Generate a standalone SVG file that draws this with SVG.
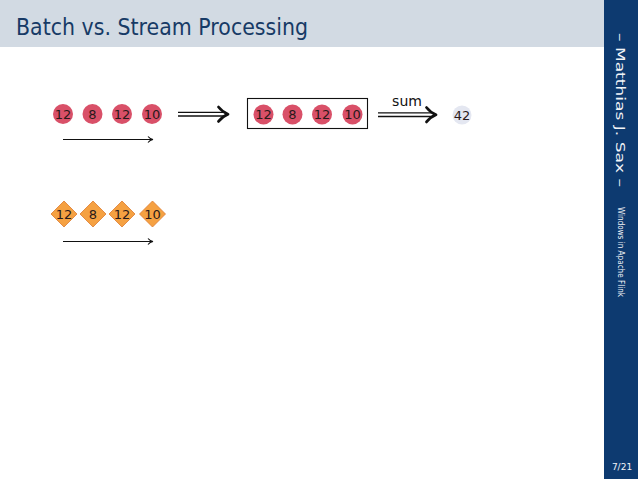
<svg xmlns="http://www.w3.org/2000/svg" width="638" height="479" viewBox="0 0 638 479">
<defs>
<style>
.bg{fill:#ffffff}
.title-bar{fill:#d2dae3}
.side{fill:#0d3a70}
.title{font-family:"DejaVu Sans","Liberation Sans",sans-serif;font-size:23px;fill:#173a66}
.ev{fill:#d95068}
.ev42{fill:#e4e7f1}
.dia{fill:#f5a142;stroke:#dd7a2e;stroke-width:0.8}
.lbl{font-family:"DejaVu Sans","Liberation Sans",sans-serif;font-size:13px;fill:#2a1a1a;text-anchor:middle}
.side-big{font-family:"DejaVu Sans","Liberation Sans",sans-serif;font-size:12.5px;fill:#f2f4f8}
.side-small{font-family:"DejaVu Sans","Liberation Sans",sans-serif;font-size:9px;fill:#f2f4f8}
.thin{stroke:#111;stroke-width:1.1;fill:none}
.dbl{stroke:#111;stroke-width:1.4;fill:none}
.head{stroke:#111;stroke-width:2.8;fill:none;stroke-linecap:round;stroke-linejoin:round}
.box{fill:none;stroke:#111;stroke-width:1.1}
</style>
</defs>
<rect class="bg" x="0" y="0" width="638" height="479"/>
<rect class="title-bar" x="0" y="0" width="604" height="47"/>
<rect class="side" x="604" y="0" width="34" height="479"/>
<text class="title" x="16" y="35" textLength="292" lengthAdjust="spacingAndGlyphs">Batch vs. Stream Processing</text>
<text class="side-big" transform="translate(616,33) rotate(90)" textLength="154" lengthAdjust="spacingAndGlyphs">– Matthias J. Sax –</text>
<text class="side-small" transform="translate(617.5,207) rotate(90)" textLength="90" lengthAdjust="spacingAndGlyphs">Windows in Apache Flink</text>
<text class="side-small" x="622" y="470" text-anchor="middle">7/21</text>

<g id="batch-input">
<circle class="ev" cx="63" cy="114" r="10"/><text class="lbl" x="63" y="118.5">12</text>
<circle class="ev" cx="92.5" cy="114" r="10"/><text class="lbl" x="92.5" y="118.5">8</text>
<circle class="ev" cx="122" cy="114" r="10"/><text class="lbl" x="122" y="118.5">12</text>
<circle class="ev" cx="152" cy="114" r="10"/><text class="lbl" x="152" y="118.5">10</text>
</g>

<g id="batch-box">
<rect class="box" x="247.5" y="98.5" width="120" height="30"/>
<circle class="ev" cx="263.5" cy="114.5" r="10"/><text class="lbl" x="263.5" y="119">12</text>
<circle class="ev" cx="292.5" cy="114.5" r="10"/><text class="lbl" x="292.5" y="119">8</text>
<circle class="ev" cx="322" cy="114.5" r="10"/><text class="lbl" x="322" y="119">12</text>
<circle class="ev" cx="352.5" cy="114.5" r="10"/><text class="lbl" x="352.5" y="119">10</text>
</g>

<g id="result">
<circle class="ev42" cx="462" cy="115" r="9.5"/><text class="lbl" x="462" y="119.5">42</text>
</g>

<g id="stream-input">
<polygon class="dia" points="64,201 77,214 64,227 51,214"/><text class="lbl" x="64" y="218.5">12</text>
<polygon class="dia" points="93,201 106,214 93,227 80,214"/><text class="lbl" x="93" y="218.5">8</text>
<polygon class="dia" points="122,201 135,214 122,227 109,214"/><text class="lbl" x="122" y="218.5">12</text>
<polygon class="dia" points="152.5,201 165.5,214 152.5,227 139.5,214"/><text class="lbl" x="152.5" y="218.5">10</text>
</g>

<g id="connectors">
<line class="thin" x1="63" y1="139.5" x2="152" y2="139.5"/>
<path class="thin" d="M148,136.5 Q150,139 153,139.5 Q150,140 148,142.5"/>
<line class="thin" x1="63" y1="241.5" x2="152" y2="241.5"/>
<path class="thin" d="M148,238.5 Q150,241 153,241.5 Q150,242 148,244.5"/>
<line class="dbl" x1="178" y1="112.4" x2="225" y2="112.4"/>
<line class="dbl" x1="178" y1="116" x2="225" y2="116"/>
<path class="head" d="M218.5,107 Q222.5,112 228,114.2 Q222.5,116.4 218.5,121.4"/>
<line class="dbl" x1="378" y1="112.9" x2="433" y2="112.9"/>
<line class="dbl" x1="378" y1="116.5" x2="433" y2="116.5"/>
<path class="head" d="M426.5,107.5 Q430.5,112.5 436,114.7 Q430.5,116.9 426.5,121.9"/>
<text class="lbl" x="407" y="106" style="font-size:14px;fill:#111">sum</text>
</g>
</svg>
